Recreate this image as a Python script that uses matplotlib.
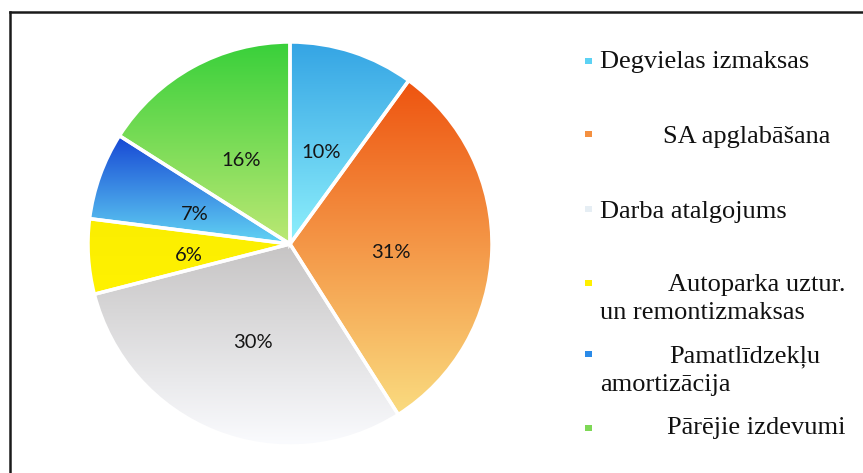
import numpy as np
import matplotlib
matplotlib.use("Agg")
import matplotlib.pyplot as plt
from matplotlib.colors import LinearSegmentedColormap
from matplotlib.patches import Rectangle, PathPatch
from matplotlib.lines import Line2D
from matplotlib.transforms import offset_copy

# data
labels = ["Degvielas izmaksas", "SA apglabāšana", "Darba atalgojums",
          "Autoparka uztur.\nun remontizmaksas", "Pamatlīdzekļu\namortizācija",
          "Pārējie izdevumi"]
shares = [10, 31, 30, 6, 7, 16]

# gradient colours (top -> bottom of each wedge)
top_cols = ["#34a4e4", "#ee5410", "#c6c4c4", "#fbee00", "#1646d4", "#38d03a"]
bot_cols = ["#8ef0fc", "#fadc80", "#fbfcff", "#fff200", "#62d4f4", "#bce874"]
leg_cols = ["#5cd2f4", "#f49040", "#e6eef4", "#fff000", "#2a8ae8", "#7ed856"]

W, H = 863, 473
fig = plt.figure(figsize=(W / 100, H / 100), dpi=100)
fig.patch.set_facecolor("white")

# pie axes: centre (290, 244) px, radius 202 px
cx, cy, r = 290, 244, 202
ax = fig.add_axes([(cx - r) / W, (H - cy - r) / H, 2 * r / W, 2 * r / H])
wedges, texts, autotexts = ax.pie(
    shares, startangle=90, counterclock=False, radius=1,
    autopct="%d%%", pctdistance=0.5,
    wedgeprops=dict(linewidth=2.5, edgecolor="white"),
    textprops=dict(fontsize=14.5, family="Lato", color="#151515"))
ax.set_xlim(-1, 1)
ax.set_ylim(-1, 1)
ax.set_aspect("auto")
ax.axis("off")

for w, c1, c2 in zip(wedges, top_cols, bot_cols):
    verts = w.get_path().vertices
    x0, y0 = verts.min(axis=0)
    x1, y1 = verts.max(axis=0)
    cmap = LinearSegmentedColormap.from_list("g", [c2, c1])
    grad = np.linspace(0, 1, 256).reshape(-1, 1)
    im = ax.imshow(grad, cmap=cmap, origin="lower", aspect="auto",
                   extent=[x0, x1, y0, y1], zorder=w.get_zorder() + 0.1)
    im.set_clip_path(w)
    # white edge back on top of the gradient
    ax.add_patch(PathPatch(w.get_path(), transform=w.get_transform(),
                           facecolor="none", edgecolor="white",
                           linewidth=2.5, zorder=w.get_zorder() + 0.2))
for t in autotexts:
    t.set_zorder(10)
    # labels sit a little lower in the original
    t.set_transform(offset_copy(ax.transData, fig=fig, x=0, y=-5, units="dots"))

# legend drawn by hand (justified text in original)
mark_y = [61, 134, 209, 283, 354, 428]
text_y = [62, 137, 212, 285, 357, 428]
align = ["left", "right", "left", "right", "right", "right"]
right_x = [None, 830, None, 845, 820, 845]
left_x = 600
line_gap = 28
for i, lab in enumerate(labels):
    fig.patches.append(Rectangle(((588 - 3.5) / W, 1 - (mark_y[i] + 3) / H), 7 / W, 6 / H,
                                 transform=fig.transFigure, facecolor=leg_cols[i],
                                 edgecolor="none"))
    lines = lab.split("\n")
    for j, ln in enumerate(lines):
        y = 1 - (text_y[i] + j * line_gap) / H
        if j == 0 and align[i] == "right":
            fig.text(right_x[i] / W, y, ln, ha="right", va="center",
                     family="Liberation Serif", fontsize=19, color="#111111")
        else:
            fig.text(left_x / W, y, ln, ha="left", va="center",
                     family="Liberation Serif", fontsize=19, color="#111111")

# frame: top and left edges only
fig.add_artist(Line2D([9.5 / W, 1], [1 - 12 / H, 1 - 12 / H], transform=fig.transFigure,
                      color="#1a1a1a", linewidth=1.8))
fig.add_artist(Line2D([9.5 / W, 9.5 / W], [0, 1 - 12 / H], transform=fig.transFigure,
                      color="#1a1a1a", linewidth=1.8))

fig.savefig("out.png", dpi=100)
